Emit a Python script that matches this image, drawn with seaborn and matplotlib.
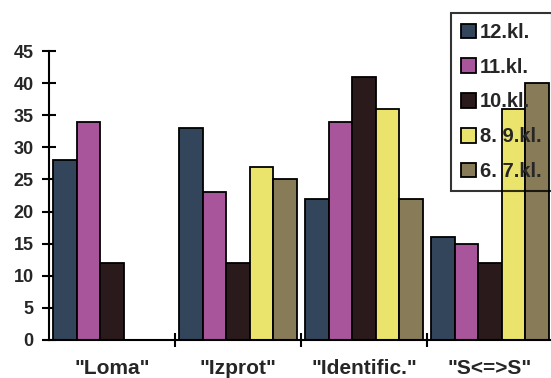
import numpy as np
import pandas as pd
import matplotlib
matplotlib.use("Agg")
import matplotlib.pyplot as plt
import seaborn as sns

# Survey results per task type and grade group
categories = ['"Loma"', '"Izprot"', '"Identific."', '"S<=>S"']
groups = ["12.kl.", "11.kl.", "10.kl.", "8. 9.kl.", "6. 7.kl."]
kl12 = [28, 33, 22, 16]
kl11 = [34, 23, 34, 15]
kl10 = [12, 12, 41, 12]
kl8_9 = [np.nan, 27, 36, 36]
kl6_7 = [np.nan, 25, 22, 40]
y_ticks = [0, 5, 10, 15, 20, 25, 30, 35, 40, 45]

colors = ["#33455a", "#a8559b", "#2a1a1c", "#ebe46c", "#877b58"]

rows = []
for grp, vals in zip(groups, [kl12, kl11, kl10, kl8_9, kl6_7]):
    for cat, v in zip(categories, vals):
        rows.append({"task": cat, "grade": grp, "value": v})
df = pd.DataFrame(rows)

sns.set_theme(style="white")
plt.rcParams["font.family"] = ["Liberation Sans", "DejaVu Sans"]
plt.rcParams["font.weight"] = "bold"

fig = plt.figure(figsize=(5.51, 3.78), dpi=100)
ax = fig.add_axes([49 / 551, 38 / 378, 504 / 551, 289 / 378])

sns.barplot(data=df, x="task", y="value", hue="grade",
            order=categories, hue_order=groups, palette=colors,
            width=0.93, gap=0, errorbar=None, edgecolor="black",
            linewidth=1.3, saturation=1, ax=ax)

ax.set_xlim(-0.5, 3.5)
ax.set_ylim(0, 45)
ax.set_yticks(y_ticks)
ax.set_yticklabels([str(t) for t in y_ticks], fontsize=13, fontweight="bold")
ax.set_xticks(range(len(categories)))
ax.set_xticklabels(categories, fontsize=15, fontweight="bold")
ax.set_xticks([0.5, 1.5, 2.5, 3.5], minor=True)
ax.tick_params(axis="x", which="major", bottom=False, length=0, pad=14)
ax.tick_params(axis="x", which="minor", bottom=True, length=10, width=1.5,
               direction="inout", color="black")
ax.tick_params(axis="y", left=True, length=10, width=1.5, direction="inout",
               color="black", pad=6)
ax.set_xlabel("")
ax.set_ylabel("")
for side in ["top", "right"]:
    ax.spines[side].set_visible(False)
for side in ["left", "bottom"]:
    ax.spines[side].set_color("black")
    ax.spines[side].set_linewidth(1.5)

handles, labels = ax.get_legend_handles_labels()
ax.get_legend().remove()
leg = fig.legend(handles, labels, loc="upper left",
                 bbox_to_anchor=(451 / 551, 1 - 13 / 378),
                 bbox_transform=fig.transFigure,
                 prop={"family": "Liberation Sans", "weight": "bold", "size": 14.5},
                 handlelength=0.75, handleheight=0.75, handletextpad=0.2,
                 labelspacing=0.78, borderpad=0.5, borderaxespad=0,
                 frameon=True, fancybox=False, facecolor="none",
                 edgecolor="black")
leg.get_frame().set_linewidth(1.5)

fig.savefig("out.png", dpi=100)
